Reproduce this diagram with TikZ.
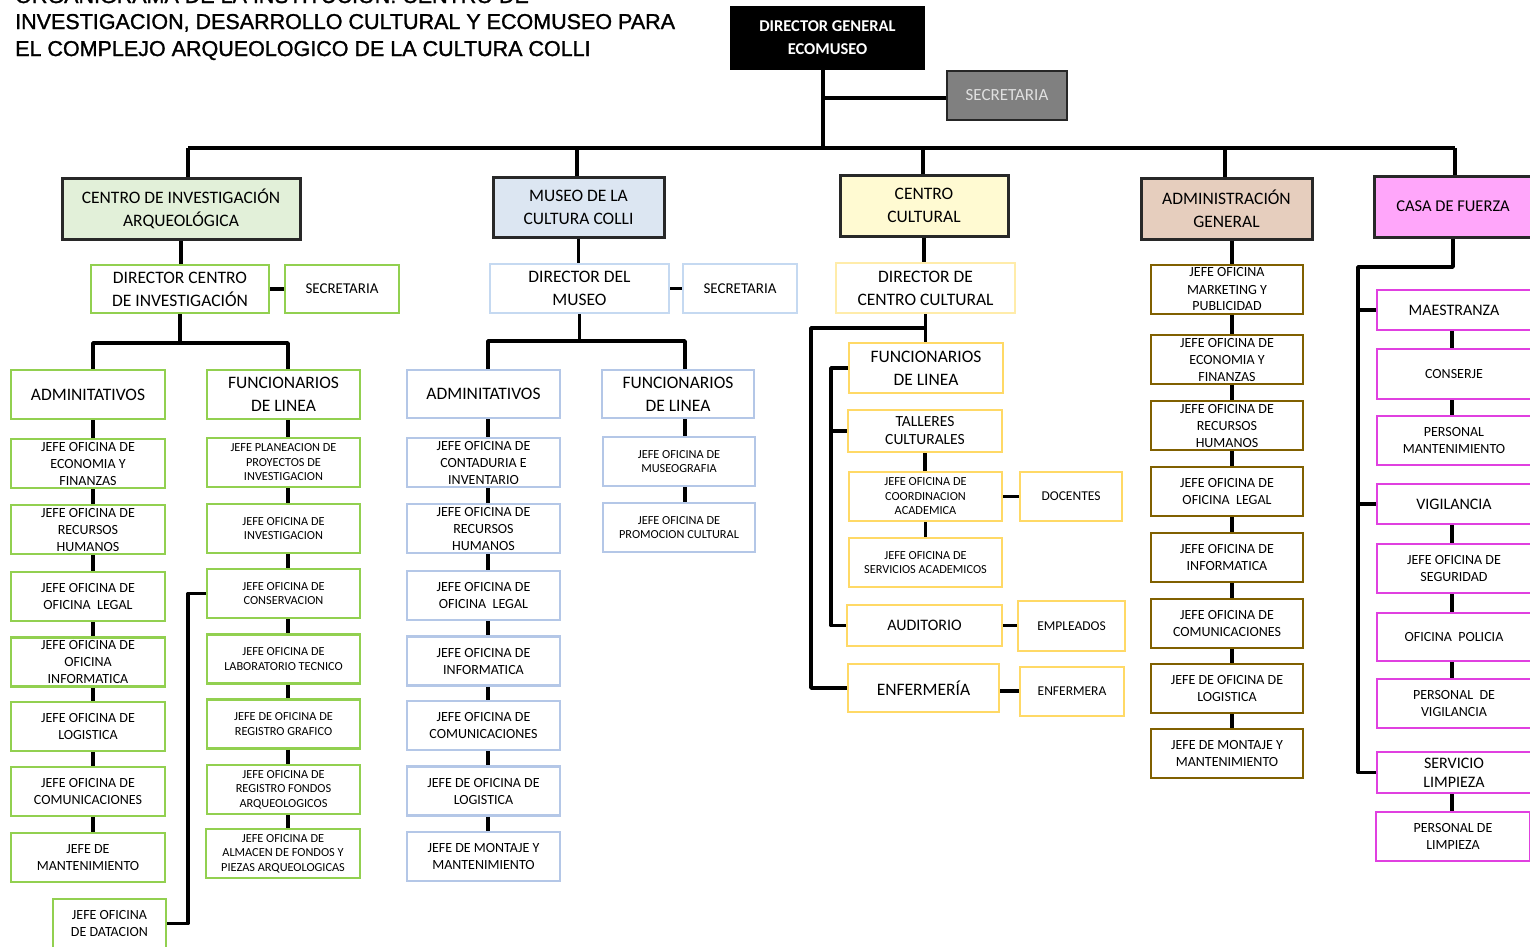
\documentclass[tikz,border=0pt]{standalone}
\usepackage{fontspec}
\setmainfont{Carlito}
\newfontfamily\titlefont[FakeBold=1.3]{Liberation Sans}
\newcommand\Fbig{\fontsize{17.5}{23}\selectfont}
\newcommand\Fmid{\fontsize{16}{19}\selectfont}
\newcommand\Fsm{\fontsize{14}{17}\selectfont}
\newcommand\Fsn{\fontsize{13.5}{16}\selectfont}
\newcommand\Ftn{\fontsize{12.3}{14.5}\selectfont}
\definecolor{topline}{RGB}{40,40,40}
\definecolor{grnline}{RGB}{146,208,80}
\definecolor{grnfill}{RGB}{226,240,217}
\definecolor{bluline}{RGB}{180,199,231}
\definecolor{bludir}{RGB}{197,217,241}
\definecolor{blufill}{RGB}{220,230,242}
\definecolor{ylwline}{RGB}{255,217,102}
\definecolor{ylwdir}{RGB}{255,236,170}
\definecolor{ylwfill}{RGB}{255,250,210}
\definecolor{brnline}{RGB}{128,96,0}
\definecolor{brnfill}{RGB}{230,206,190}
\definecolor{pnkline}{RGB}{224,64,224}
\definecolor{pnkfill}{RGB}{255,166,250}
\definecolor{secgray}{RGB}{128,128,128}
\tikzset{
  conn/.style={line width=3.5pt, line join=round},
  bx/.style={draw, align=center, inner sep=0pt, line width=2.5pt},
  wh/.style 2 args={minimum width=#1, minimum height=#2},
  topbox/.style={bx, draw=topline, line width=3pt, font=\Fbig},
  grn/.style={bx, draw=grnline},
  blu/.style={bx, draw=bluline},
  ylw/.style={bx, draw=ylwline},
  brn/.style={bx, draw=brnline},
  pnk/.style={bx, draw=pnkline},
  ttl/.style={anchor=base west, inner sep=0pt, font=\titlefont\fontsize{21.5}{27}\selectfont},
}
\begin{document}
\begin{tikzpicture}[x=1pt,y=-1pt]
\fill[white] (0,0) rectangle (1530,946);
\useasboundingbox (0,0) rectangle (1530,946);

% title
\node[ttl] (t1) at (15,3) {ORGANIGRAMA DE LA INSTITUCION: CENTRO DE};
\node[ttl] (t2) at (15,29) {INVESTIGACION, DESARROLLO CULTURAL Y ECOMUSEO PARA};
\node[ttl] (t3) at (15,56) {EL COMPLEJO ARQUEOLOGICO DE LA CULTURA COLLI};

% top
\node[bx, draw=black, fill=black, text=white, font=\bfseries\fontsize{16.5}{23}\selectfont, wh={193}{62}] (dg) at (827.5,38) {DIRECTOR GENERAL\\ECOMUSEO};
\node[bx, draw=black!85, fill=secgray, text=white!88!black, font=\fontsize{17}{20}\selectfont, wh={120}{49}] (sec) at (1007,95.5) {SECRETARIA};

% level 1
\node[topbox, fill=grnfill, wh={238}{61}] (cia) at (181,208.5) {CENTRO DE INVESTIGACIÓN\\ARQUEOLÓGICA};
\node[topbox, fill=blufill, wh={171}{60}] (mus) at (578.5,207) {MUSEO DE LA\\CULTURA COLLI};
\node[topbox, fill=ylwfill, wh={168}{61}] (cc) at (924,205.5) {CENTRO\\CULTURAL};
\node[topbox, fill=brnfill, wh={171}{61}] (adm) at (1226.5,208.5) {ADMINISTRACIÓN\\GENERAL};
\node[topbox, fill=pnkfill, wh={158}{61}, font=\fontsize{16.5}{20}\selectfont] (casa) at (1453,206.5) {CASA DE FUERZA};

\coordinate (busL) at (188,148);
\coordinate (busR) at (1455,148);
\coordinate (dgx) at (823,98);
\draw[conn] (dgx |- dg.south) -- (dgx |- busL);
\draw[conn] (sec.west |- dgx) -- (dgx);
\draw[conn] (busL) -- (busR);
\draw[conn] (busL) -- (busL |- cia.north);
\draw[conn] (busL -| 577,0) -- (577,0 |- mus.north);
\draw[conn] (busL -| 923,0) -- (923,0 |- cc.north);
\draw[conn] (busL -| 1225,0) -- (1225,0 |- adm.north);
\draw[conn] (busR) -- (busR |- casa.north);

% ===== Centro de investigacion =====
\node[grn, font=\Fbig, wh={178}{48}] (dci) at (180,289) {DIRECTOR CENTRO\\DE INVESTIGACIÓN};
\node[grn, font=\fontsize{15}{18}\selectfont, wh={114}{48}] (sci) at (342,289) {SECRETARIA};
\draw[conn] (cia.south) -- (cia.south |- dci.north);
\draw[conn] (dci.east) -- (sci.west);

\node[grn, font=\Fbig, wh={154}{49}] (ca1) at (88,394.5) {ADMINITATIVOS};
\node[grn, font=\Fsm, wh={154}{49}] (ca2) at (88,463.5) {JEFE OFICINA DE\\ECONOMIA Y\\FINANZAS};
\node[grn, font=\Fsm, wh={154}{49}] (ca3) at (88,529.5) {JEFE OFICINA DE\\RECURSOS\\HUMANOS};
\node[grn, font=\Fsm, wh={154}{49}] (ca4) at (88,596.5) {JEFE OFICINA DE\\OFICINA\ \ LEGAL};
\node[grn, font=\Fsm, wh={154}{49}] (ca5) at (88,662) {JEFE OFICINA DE\\OFICINA\\INFORMATICA};
\node[grn, font=\Fsm, wh={154}{49}] (ca6) at (88,726.5) {JEFE OFICINA DE\\LOGISTICA};
\node[grn, font=\Fsm, wh={154}{49}] (ca7) at (88,791.5) {JEFE OFICINA DE\\COMUNICACIONES};
\node[grn, font=\Fsm, wh={154}{49}] (ca8) at (88,857.5) {JEFE DE\\MANTENIMIENTO};
\node[grn, font=\Fsm, wh={113}{49}] (dat) at (109.5,923.5) {JEFE OFICINA\\DE DATACION};

\node[grn, font=\Fbig, wh={153}{49}] (cr1) at (283.5,394.5) {FUNCIONARIOS\\DE LINEA};
\node[grn, font=\Ftn, wh={153}{49}] (cr2) at (283.5,462.5) {JEFE PLANEACION DE\\PROYECTOS DE\\INVESTIGACION};
\node[grn, font=\Ftn, wh={153}{49}] (cr3) at (283.5,528.5) {JEFE OFICINA DE\\INVESTIGACION};
\node[grn, font=\Ftn, wh={153}{49}] (cr4) at (283.5,593.5) {JEFE OFICINA DE\\CONSERVACION};
\node[grn, font=\Ftn, wh={153}{49}] (cr5) at (283.5,659) {JEFE OFICINA DE\\LABORATORIO TECNICO};
\node[grn, font=\Ftn, wh={153}{49}] (cr6) at (283.5,724) {JEFE DE OFICINA DE\\REGISTRO GRAFICO};
\node[grn, font=\Ftn, wh={153}{49}] (cr7) at (283.5,789.5) {JEFE OFICINA DE\\REGISTRO FONDOS\\ARQUEOLOGICOS};
\node[grn, font=\Ftn, wh={154}{49}] (cr8) at (283,853.5) {JEFE OFICINA DE\\ALMACEN DE FONDOS Y\\PIEZAS ARQUEOLOGICAS};

\coordinate (cL) at (93,343);
\coordinate (cR) at (288,343);
\draw[conn] (dci.south) -- (dci.south |- cL);
\draw[conn] (cL |- ca1.north) -- (cL) -- (cR) -- (cR |- cr1.north);
\foreach \a/\b in {ca1/ca2,ca2/ca3,ca3/ca4,ca4/ca5,ca5/ca6,ca6/ca7,ca7/ca8}
  \draw[conn] (cL |- \a.south) -- (cL |- \b.north);
\foreach \a/\b in {cr1/cr2,cr2/cr3,cr3/cr4,cr4/cr5,cr5/cr6,cr6/cr7,cr7/cr8}
  \draw[conn] (cR |- \a.south) -- (cR |- \b.north);
\coordinate (dtx) at (188,600);
\draw[conn] (cr4.west) -- (cr4.west -| dtx) -- (dtx |- dat.east) -- (dat.east);

% ===== Museo =====
\node[bx, draw=bludir, font=\Fbig, wh={179}{49}] (dm) at (579.5,288.5) {DIRECTOR DEL\\MUSEO};
\node[bx, draw=bludir, font=\fontsize{15}{18}\selectfont, wh={114}{49}] (sm) at (740,288.5) {SECRETARIA};
\draw[conn] (mus.south) -- (mus.south |- dm.north);
\draw[conn] (dm.east) -- (sm.west);

\node[blu, font=\Fbig, wh={153}{48}] (ma1) at (483.5,394) {ADMINITATIVOS};
\node[blu, font=\Fsm, wh={153}{49}] (ma2) at (483.5,462.5) {JEFE OFICINA DE\\CONTADURIA E\\INVENTARIO};
\node[blu, font=\Fsm, wh={153}{49}] (ma3) at (483.5,528.5) {JEFE OFICINA DE\\RECURSOS\\HUMANOS};
\node[blu, font=\Fsm, wh={153}{49}] (ma4) at (483.5,595.5) {JEFE OFICINA DE\\OFICINA\ \ LEGAL};
\node[blu, font=\Fsm, wh={153}{49}] (ma5) at (483.5,661) {JEFE OFICINA DE\\INFORMATICA};
\node[blu, font=\Fsm, wh={153}{49}] (ma6) at (483.5,725.5) {JEFE OFICINA DE\\COMUNICACIONES};
\node[blu, font=\Fsm, wh={153}{49}] (ma7) at (483.5,791) {JEFE DE OFICINA DE\\LOGISTICA};
\node[blu, font=\Fsm, wh={153}{49}] (ma8) at (483.5,856.5) {JEFE DE MONTAJE Y\\MANTENIMIENTO};

\node[blu, font=\Fbig, wh={152}{48}] (mf1) at (678,394) {FUNCIONARIOS\\DE LINEA};
\node[blu, font=\Ftn, wh={152}{49}] (mf2) at (679,461.5) {JEFE OFICINA DE\\MUSEOGRAFIA};
\node[blu, font=\Ftn, wh={152}{49}] (mf3) at (679,527.5) {JEFE OFICINA DE\\PROMOCION CULTURAL};

\coordinate (mL) at (488,341);
\coordinate (mR) at (685,341);
\draw[conn] (dm.south) -- (dm.south |- mL);
\draw[conn] (mL |- ma1.north) -- (mL) -- (mR) -- (mR |- mf1.north);
\foreach \a/\b in {ma1/ma2,ma2/ma3,ma3/ma4,ma4/ma5,ma5/ma6,ma6/ma7,ma7/ma8}
  \draw[conn] (mL |- \a.south) -- (mL |- \b.north);
\foreach \a/\b in {mf1/mf2,mf2/mf3}
  \draw[conn] (mR |- \a.south) -- (mR |- \b.north);

% ===== Centro cultural =====
\node[bx, draw=ylwdir, font=\Fbig, wh={179}{50}] (dcc) at (925.5,288) {DIRECTOR DE\\CENTRO CULTURAL};
\draw[conn] (cc.south) -- (cc.south |- dcc.north);

\node[ylw, font=\Fbig, wh={154}{50}] (cf) at (926,368) {FUNCIONARIOS\\DE LINEA};
\node[ylw, font=\fontsize{15.5}{18}\selectfont, wh={154}{42}] (ct) at (925,431) {TALLERES\\CULTURALES};
\node[ylw, font=\Ftn, wh={153}{49}] (cco) at (925.5,496.5) {JEFE OFICINA DE\\COORDINACION\\ACADEMICA};
\node[ylw, font=\Fsn, wh={102}{49}] (cdo) at (1071,496.5) {DOCENTES};
\node[ylw, font=\Ftn, wh={153}{49}] (csa) at (925.5,562.5) {JEFE OFICINA DE\\SERVICIOS ACADEMICOS};
\node[ylw, font=\fontsize{16}{19}\selectfont, wh={155}{41}] (cau) at (924.5,625.5) {AUDITORIO};
\node[ylw, font=\Fsn, wh={107}{50}] (cem) at (1071.5,626) {EMPLEADOS};
\node[ylw, font=\Fbig, wh={151}{48}] (cen) at (923.5,688) {ENFERMERÍA};
\node[ylw, font=\Fsn, wh={104}{49}] (cenf) at (1072,691.5) {ENFERMERA};

\coordinate (ccb) at (925,328);
\coordinate (ccL) at (811,328);
\coordinate (ccI) at (831,400);
\draw[conn] (dcc.south) -- (dcc.south |- cf.north);
\draw[conn] (ccb) -- (ccL) -- (ccL |- cen.west) -- (cen.west);
\draw[conn] (cf.west) -- (cf.west -| ccI) -- (ccI |- cau.west) -- (cau.west);
\draw[conn] (ct.west -| ccI) -- (ct.west);
\draw[conn] (ct.south) -- (ct.south |- cco.north);
\draw[conn] (cco.south) -- (cco.south |- csa.north);
\draw[conn] (cco.east) -- (cco.east -| cdo.west);
\draw[conn] (cau.east) -- (cau.east -| cem.west);
\draw[conn] (cenf.west |- 0,691) -- (cen.east |- 0,691);

% ===== Administracion =====
\node[brn, font=\Fsm, wh={152}{49}] (a1) at (1227,289.5) {JEFE OFICINA\\MARKETING Y\\PUBLICIDAD};
\node[brn, font=\Fsm, wh={152}{49}] (a2) at (1227,359.5) {JEFE OFICINA DE\\ECONOMIA Y\\FINANZAS};
\node[brn, font=\Fsm, wh={152}{49}] (a3) at (1227,425.5) {JEFE OFICINA DE\\RECURSOS\\HUMANOS};
\node[brn, font=\Fsm, wh={152}{49}] (a4) at (1227,491.5) {JEFE OFICINA DE\\OFICINA\ \ LEGAL};
\node[brn, font=\Fsm, wh={152}{49}] (a5) at (1227,557.5) {JEFE OFICINA DE\\INFORMATICA};
\node[brn, font=\Fsm, wh={152}{49}] (a6) at (1227,623.5) {JEFE OFICINA DE\\COMUNICACIONES};
\node[brn, font=\Fsm, wh={152}{49}] (a7) at (1227,688.5) {JEFE DE OFICINA DE\\LOGISTICA};
\node[brn, font=\Fsm, wh={152}{49}] (a8) at (1227,753.5) {JEFE DE MONTAJE Y\\MANTENIMIENTO};
\coordinate (aX) at (1232,300);
\foreach \a/\b in {adm/a1,a1/a2,a2/a3,a3/a4,a4/a5,a5/a6,a6/a7,a7/a8}
  \draw[conn] (aX |- \a.south) -- (aX |- \b.north);

% ===== Casa de fuerza =====
\node[pnk, font=\Fmid, wh={154}{40}] (mae) at (1454,310) {MAESTRANZA};
\node[pnk, font=\Fsm, wh={154}{50}] (con) at (1454,374) {CONSERJE};
\node[pnk, font=\Fsm, wh={154}{49}] (pma) at (1454,440.5) {PERSONAL\\MANTENIMIENTO};
\node[pnk, font=\Fmid, wh={154}{40}] (vig) at (1454,504) {VIGILANCIA};
\node[pnk, font=\Fsm, wh={154}{49}] (seg) at (1454,568.5) {JEFE OFICINA DE\\SEGURIDAD};
\node[pnk, font=\Fsm, wh={154}{48}] (pol) at (1454,637) {OFICINA\ \ POLICIA};
\node[pnk, font=\Fsm, wh={154}{49}] (pvi) at (1454,703.5) {PERSONAL\ \ DE\\VIGILANCIA};
\node[pnk, font=\Fmid, wh={154}{41}] (sli) at (1454,772.5) {SERVICIO\\LIMPIEZA};
\node[pnk, font=\Fsm, wh={154}{49}] (pli) at (1453,836.5) {PERSONAL DE\\LIMPIEZA};
\coordinate (kX) at (1358,267);
\coordinate (kC) at (1452,300);
\draw[conn] (casa.south) -- (casa.south |- kX) -- (kX) -- (kX |- sli.west) -- (sli.west);
\draw[conn] (kX |- mae.west) -- (mae.west);
\draw[conn] (kX |- vig.west) -- (vig.west);
\foreach \a/\b in {mae/con,con/pma,vig/seg,seg/pol,pol/pvi,sli/pli}
  \draw[conn] (kC |- \a.south) -- (kC |- \b.north);
\end{tikzpicture}
\end{document}
